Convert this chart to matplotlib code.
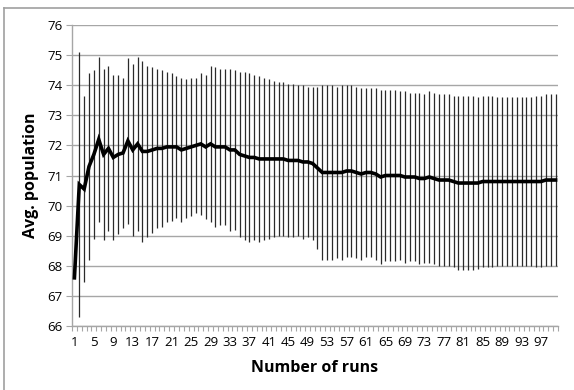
import matplotlib
matplotlib.use("Agg")
import matplotlib.pyplot as plt
from matplotlib.lines import Line2D
import numpy as np

runs = list(range(1, 101))
avg_population = [
    67.6, 70.7, 70.55, 71.3, 71.7, 72.2, 71.7, 71.9, 71.6, 71.7,
    71.75, 72.15, 71.85, 72.05, 71.8, 71.8, 71.85, 71.9, 71.9, 71.95,
    71.95, 71.95, 71.85, 71.9, 71.95, 72.0, 72.05, 71.95, 72.05, 71.95,
    71.95, 71.95, 71.85, 71.85, 71.7, 71.65, 71.6, 71.6, 71.55, 71.55,
    71.55, 71.55, 71.55, 71.55, 71.5, 71.5, 71.5, 71.45, 71.45, 71.4,
    71.25, 71.1, 71.1, 71.1, 71.1, 71.1, 71.15, 71.15, 71.1, 71.05,
    71.1, 71.1, 71.05, 70.95, 71.0, 71.0, 71.0, 71.0, 70.95, 70.95,
    70.95, 70.9, 70.9, 70.95, 70.9, 70.85, 70.85, 70.85, 70.8, 70.75,
    70.75, 70.75, 70.75, 70.75, 70.8, 70.8, 70.8, 70.8, 70.8, 70.8,
    70.8, 70.8, 70.8, 70.8, 70.8, 70.8, 70.8, 70.85, 70.85, 70.85,
]
std_dev = [
    0.0, 4.4, 3.1, 3.1, 2.8, 2.75, 2.85, 2.75, 2.75, 2.65,
    2.5, 2.75, 2.85, 2.9, 3.0, 2.85, 2.75, 2.65, 2.6, 2.5,
    2.45, 2.35, 2.4, 2.3, 2.3, 2.25, 2.35, 2.4, 2.6, 2.65,
    2.6, 2.6, 2.7, 2.65, 2.75, 2.8, 2.8, 2.75, 2.75, 2.7,
    2.65, 2.6, 2.55, 2.55, 2.55, 2.55, 2.5, 2.55, 2.5, 2.55,
    2.7, 2.9, 2.9, 2.9, 2.85, 2.9, 2.85, 2.85, 2.85, 2.85,
    2.8, 2.8, 2.85, 2.9, 2.85, 2.85, 2.85, 2.8, 2.85, 2.8,
    2.8, 2.85, 2.8, 2.85, 2.85, 2.85, 2.85, 2.85, 2.85, 2.9,
    2.9, 2.9, 2.9, 2.85, 2.85, 2.85, 2.85, 2.8, 2.8, 2.8,
    2.8, 2.8, 2.8, 2.8, 2.8, 2.85, 2.85, 2.85, 2.85, 2.85,
]
y_ticks = list(range(66, 77))
x_tick_labels = list(range(1, 98, 4))

plt.rcParams['font.family'] = ['Open Sans', 'DejaVu Sans']

W, H = 574, 390
fig = plt.figure(figsize=(W / 100, H / 100), dpi=100)
ax = fig.add_axes([72 / W, 1 - 326 / H, (558 - 72) / W, (326 - 25) / H])

grid_c = '#a6a6a6'
ax.set_ylim(66, 76)
ax.set_xlim(0.5, 100.5)
ax.set_yticks(y_ticks)
ax.set_yticklabels([str(t) for t in y_ticks], fontsize=9.5)
ax.yaxis.grid(True, color=grid_c, linewidth=1.0)
ax.set_axisbelow(True)

ax.errorbar(runs, avg_population, yerr=std_dev, fmt='none', ecolor='#2a2a2a',
            elinewidth=0.9, capsize=0, zorder=2)
ax.plot(runs, avg_population, color='black', linewidth=2.6, zorder=3,
        solid_joinstyle='miter')

ax.set_xticks(x_tick_labels)
ax.set_xticklabels([str(t) for t in x_tick_labels], fontsize=9.5)
ax.set_xticks(np.arange(0.5, 101, 1), minor=True)
ax.tick_params(axis='x', which='major', length=0, pad=7)
ax.tick_params(axis='x', which='minor', length=3.5, color=grid_c, width=0.8)
ax.tick_params(axis='y', which='major', length=4, color=grid_c, width=0.8, pad=3)

for s in ['top', 'right']:
    ax.spines[s].set_visible(False)
for s in ['left', 'bottom']:
    ax.spines[s].set_color(grid_c)
    ax.spines[s].set_linewidth(1.0)

ax.set_xlabel('Number of runs', fontsize=11.5, fontweight='bold', labelpad=8)
ax.set_ylabel('Avg. population', fontsize=11.5, fontweight='bold', labelpad=6)

# outer chart-area border (left and top visible)
fig.add_artist(Line2D([3.5 / W, 3.5 / W], [0, 1 - 8 / H], transform=fig.transFigure,
                      color='#a0a0a0', linewidth=1.2))
fig.add_artist(Line2D([3.5 / W, 1], [1 - 8 / H, 1 - 8 / H], transform=fig.transFigure,
                      color='#a0a0a0', linewidth=1.2))

fig.savefig('out.png', dpi=100)
